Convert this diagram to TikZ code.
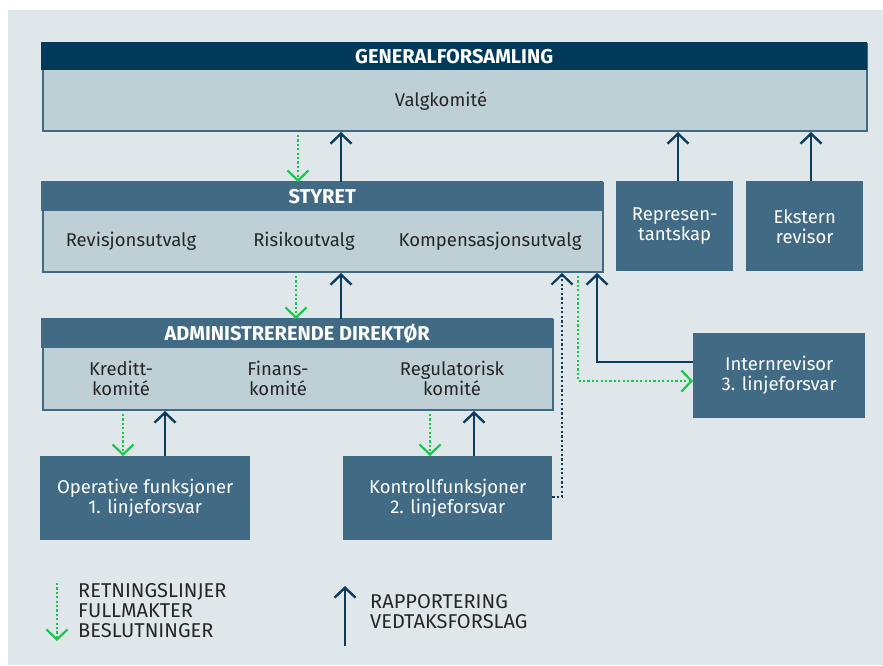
\documentclass[tikz,border=0pt]{standalone}
\usepackage{fontspec}
\setmainfont{Fira Sans}
\usetikzlibrary{arrows.meta,calc}
\definecolor{bgc}{RGB}{224,231,235}
\definecolor{navy}{RGB}{0,58,90}
\definecolor{medc}{RGB}{65,106,133}
\definecolor{lightc}{RGB}{190,207,214}
\definecolor{greenc}{RGB}{25,200,75}
\definecolor{arrc}{RGB}{12,60,92}
\tikzset{
  x=1pt,y=-1pt,
  every node/.style={font=\fontsize{18.5}{20}\selectfont, align=center, inner sep=0pt},
  lightbox/.style={fill=lightc, draw=medc, line width=2pt, anchor=north west},
  hdrbox/.style={fill=medc, text=white, anchor=north west, font=\fontsize{20}{20}\selectfont\bfseries},
  medbox/.style={fill=medc, text=white, anchor=north west},
  lbl/.style={text=black!85},
  legtxt/.style={text=black!85, anchor=north west, align=left, font=\fontsize{20}{20}\selectfont},
  uparr/.style={draw=arrc, line width=2.4pt, -{Straight Barb[length=10pt,width=21pt,line width=2.4pt]}},
  downarr/.style={draw=greenc, line width=2.2pt, dash pattern=on 2.2pt off 2.2pt, -{Straight Barb[length=10pt,width=21pt,line width=2.2pt]}},
  dotarr/.style={draw=arrc, line width=2.2pt, dash pattern=on 2.2pt off 2.4pt, -{Straight Barb[length=10pt,width=21pt,line width=2.2pt]}},
}
\begin{document}
\begin{tikzpicture}
\useasboundingbox (0,0) rectangle (883,665);
\fill[white] (0,0) rectangle (883,665);
\fill[bgc] (8,10) rectangle (883,665);

% Generalforsamling
\node[lightbox, minimum width=824, minimum height=87] (gf) at (42,43) {};
\node[hdrbox, fill=navy, minimum width=826, minimum height=28] (gfh) at (41,42) {GENERALFORSAMLING};
\node[lbl] (valg) at (441,101) {Valgkomité};

% Styret
\node[lightbox, minimum width=560, minimum height=89] (sty) at (42,182) {};
\node[hdrbox, minimum width=562, minimum height=30] (styh) at (41,181) {STYRET};
\node[lbl] (rev) at (131,241) {Revisjonsutvalg};
\node[lbl] (ris) at (304,241) {Risikoutvalg};
\node[lbl] (komp) at (490,241) {Kompensasjonsutvalg};

% Representantskap, Ekstern revisor
\node[medbox, minimum width=117, minimum height=90] (rep) at (616,181) {Represen-\\tantskap};
\node[medbox, minimum width=117, minimum height=90] (ext) at (746,181) {Ekstern\\revisor};

% Administrerende direktor
\node[lightbox, minimum width=510, minimum height=90] (adm) at (42,319) {};
\node[hdrbox, minimum width=512, minimum height=30] (admh) at (41,318) {ADMINISTRERENDE DIREKTØR};
\node[lbl] (kred) at (121,378) {Kreditt-\\komité};
\node[lbl] (fin) at (278,378) {Finans-\\komité};
\node[lbl] (reg) at (452,378) {Regulatorisk\\komité};

% Internrevisor
\node[medbox, minimum width=172, minimum height=85] (int) at (693,333) {Internrevisor\\3. linjeforsvar};

% Operative, Kontroll
\node[medbox, minimum width=210, minimum height=84] (op) at (40,456) {Operative funksjoner\\1. linjeforsvar};
\node[medbox, minimum width=209, minimum height=84] (kon) at (343,456) {Kontrollfunksjoner\\2. linjeforsvar};

% connectors GF <-> Styret
\draw[downarr] (298,0 |- gf.south) ++(0,3) -- (298,0 |- sty.north);
\draw[uparr] (341,0 |- sty.north) -- (341,0 |- gf.south);
\draw[uparr] (678,0 |- rep.north) -- (678,0 |- gf.south);
\draw[uparr] (811,0 |- ext.north) -- (811,0 |- gf.south);

% Styret <-> ADM
\draw[downarr] (296,0 |- sty.south) ++(0,3) -- (296,0 |- adm.north);
\draw[uparr] (341,0 |- adm.north) -- (341,0 |- sty.south);

% ADM <-> Operative / Kontroll
\draw[downarr] (123,0 |- adm.south) ++(0,3) -- (123,0 |- op.north);
\draw[uparr] (165,0 |- op.north) -- (165,0 |- adm.south);
\draw[downarr] (430,0 |- adm.south) ++(0,3) -- (430,0 |- kon.north);
\draw[uparr] (474,0 |- kon.north) -- (474,0 |- adm.south);

% Kontroll -> Styret (dotted)
\draw[dotarr] (kon.east |- 0,497) -| (562,0 |- sty.south);
% Styret -> Internrevisor (green dotted)
\draw[downarr] (578,0 |- sty.south) ++(0,3) |- (int.west |- 0,381);
% Internrevisor -> Styret
\draw[uparr] (int.west |- 0,362) -| (597,0 |- sty.south);

% legend
\coordinate (l1a) at (57,583);
\coordinate (l1b) at (57,641);
\draw[downarr] (l1a) -- (l1b);
\node[legtxt] (leg1) at (78,583) {RETNINGSLINJER\\FULLMAKTER\\BESLUTNINGER};
\coordinate (l2a) at (345,646);
\coordinate (l2b) at (345,586);
\draw[uparr] (l2a) -- (l2b);
\node[legtxt] (leg2) at (370,594) {RAPPORTERING\\VEDTAKSFORSLAG};
\end{tikzpicture}
\end{document}
